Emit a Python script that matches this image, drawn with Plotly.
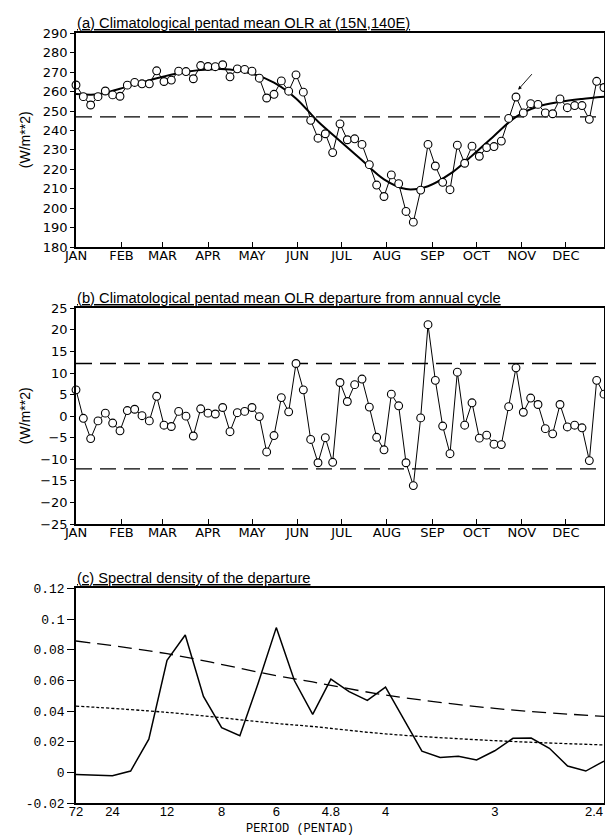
import plotly.graph_objects as go

# ---------------- data ----------------
pentad = list(range(1, 74))
olr = [263.4, 257.4, 253.1, 257.4, 260.3, 258.3, 257.6, 263.3, 264.7, 264.0,
       264.0, 270.7, 265.2, 265.9, 270.5, 270.3, 266.6, 273.4, 272.9, 272.8,
       273.8, 267.6, 271.7, 271.4, 270.5, 266.9, 256.7, 258.6, 265.5, 260.2,
       268.6, 259.7, 245.2, 236.0, 238.3, 228.6, 243.4, 235.2, 235.7, 232.8,
       222.4, 211.9, 206.0, 217.1, 212.6, 198.3, 192.8, 209.3, 232.8, 221.7,
       213.3, 209.5, 232.4, 223.1, 231.9, 226.7, 231.2, 231.7, 234.5, 246.2,
       257.2, 249.0, 253.8, 253.4, 249.0, 248.6, 256.2, 251.7, 252.8, 252.8,
       245.7, 265.3, 262.1]
cycle_pentad = [1, 4, 7, 10, 13, 16, 19, 22, 25, 28, 31, 34, 37, 40, 43, 46,
                49, 52, 55, 58, 61, 64, 67, 70, 73]
cycle_olr = [258.8, 258.6, 261.5, 264.8, 267.8, 270.2, 271.4, 271.4, 269.2,
             264.6, 256.5, 244.6, 234.6, 224.6, 214.8, 209.8, 211.3, 217.6,
             227.0, 237.2, 247.0, 252.3, 254.7, 256.2, 257.3]
olr_mean = 247.0

departure = [6.1, -0.5, -5.2, -1.1, 0.7, -1.6, -3.4, 1.3, 1.6, 0.1,
             -1.1, 4.6, -2.1, -2.4, 1.1, 0.0, -4.6, 1.7, 0.7, 0.5,
             2.0, -3.6, 0.8, 1.1, 2.0, -0.1, -8.3, -4.5, 4.3, 1.0,
             12.2, 6.1, -5.4, -10.8, -5.0, -10.7, 7.8, 3.4, 7.3, 8.6,
             2.1, -4.9, -7.8, 5.1, 2.4, -10.8, -16.1, -0.4, 21.2, 8.3,
             -2.3, -8.7, 10.2, -2.1, 3.1, -5.1, -4.4, -6.5, -6.6, 2.2,
             11.2, 0.9, 4.2, 2.7, -2.9, -4.1, 2.7, -2.5, -2.1, -2.7,
             -10.3, 8.3, 5.1]
dep_limit = 12.2

harmonic = list(range(1, 31))
spectrum = [-0.0012, -0.0015, -0.0020, 0.0010, 0.0218, 0.0731, 0.0896, 0.0496,
            0.0292, 0.0240, 0.0580, 0.0944, 0.0598, 0.0379, 0.0609, 0.0527,
            0.0470, 0.0557, 0.0350, 0.0140, 0.0099, 0.0106, 0.0082, 0.0142,
            0.0223, 0.0225, 0.0158, 0.0043, 0.0010, 0.0075]
noise_k = [1, 6, 12, 14, 18, 24, 30]
red_noise_95 = [0.0857, 0.0774, 0.0631, 0.0590, 0.0505, 0.0418, 0.0366]
red_noise_mean = [0.0433, 0.0392, 0.0320, 0.0300, 0.0252, 0.0208, 0.0180]

month_labels = ["JAN", "FEB", "MAR", "APR", "MAY", "JUN", "JUL", "AUG",
                "SEP", "OCT", "NOV", "DEC"]
month_start_day = [0, 31, 59, 90, 120, 151, 181, 212, 243, 273, 304, 334]
period_labels = ["72", "24", "12", "8", "6", "4.8", "4", "3", "2.4"]
period_values = [72, 24, 12, 8, 6, 4.8, 4, 3, 2.4]

titles = ["(a) Climatological pentad mean OLR at (15N,140E)",
          "(b) Climatological pentad mean OLR departure from annual cycle",
          "(c) Spectral density of the departure"]

# ---------------- layout geometry ----------------
# the page body has an 8px margin, so figure pixels = screen pixels - 8
OFF = 8
W, H = 605, 832
def px_x(p):
    return (p - OFF) / W
def px_y(p):
    return 1 - (p - OFF) / H

x_dom = [px_x(76), px_x(604)]
dom_a = [px_y(247), px_y(33.3)]
dom_b = [px_y(524), px_y(308.3)]
dom_c = [px_y(803.3), px_y(588.3)]

month_ticks = [d / 5 + 1 for d in month_start_day]
period_ticks = [round(72 / p, 6) for p in period_values]

TICKFONT = dict(family="DejaVu Sans", size=13, color="black")
TITLEFONT = "Liberation Sans, Arial, sans-serif"
PERIODFONT = dict(family="Liberation Sans, Arial, sans-serif", size=13, color="black")

fig = go.Figure()

# ---- panel a ----
fig.add_trace(go.Scatter(x=[1, 73], y=[olr_mean, olr_mean], mode="lines",
                         line=dict(color="black", width=1.3, dash="16px,8px"),
                         xaxis="x", yaxis="y", showlegend=False, hoverinfo="skip"))
fig.add_trace(go.Scatter(x=cycle_pentad, y=cycle_olr, mode="lines",
                         line=dict(color="black", width=2, shape="spline", smoothing=1.0),
                         xaxis="x", yaxis="y", showlegend=False))
fig.add_trace(go.Scatter(x=pentad, y=olr, mode="lines+markers",
                         line=dict(color="black", width=1),
                         marker=dict(symbol="circle", size=7.8, color="white",
                                     line=dict(color="black", width=1.1)),
                         cliponaxis=False,
                         xaxis="x", yaxis="y", showlegend=False))

# ---- panel b ----
for lim in (dep_limit, -dep_limit):
    fig.add_trace(go.Scatter(x=[1, 73], y=[lim, lim], mode="lines",
                             line=dict(color="black", width=1.3, dash="16px,8px"),
                             xaxis="x2", yaxis="y2", showlegend=False, hoverinfo="skip"))
fig.add_trace(go.Scatter(x=pentad, y=departure, mode="lines+markers",
                         line=dict(color="black", width=1),
                         marker=dict(symbol="circle", size=7.8, color="white",
                                     line=dict(color="black", width=1.1)),
                         cliponaxis=False,
                         xaxis="x2", yaxis="y2", showlegend=False))

# ---- panel c ----
fig.add_trace(go.Scatter(x=noise_k, y=red_noise_95, mode="lines",
                         line=dict(color="black", width=1.3, dash="14px,7px",
                                   shape="spline", smoothing=1.0),
                         xaxis="x3", yaxis="y3", showlegend=False))
fig.add_trace(go.Scatter(x=noise_k, y=red_noise_mean, mode="lines",
                         line=dict(color="black", width=1.3, dash="3px,2px",
                                   shape="spline", smoothing=1.0),
                         xaxis="x3", yaxis="y3", showlegend=False))
fig.add_trace(go.Scatter(x=harmonic, y=spectrum, mode="lines",
                         line=dict(color="black", width=1.5),
                         xaxis="x3", yaxis="y3", showlegend=False))

axis_common = dict(showline=True, linecolor="black", linewidth=1.5, mirror=True,
                   showgrid=False, zeroline=False, tickfont=TICKFONT,
                   ticklen=4, tickwidth=1, tickcolor="black", automargin=False)

fig.update_layout(
    width=W, height=H,
    margin=dict(l=0, r=0, t=0, b=0),
    paper_bgcolor="white", plot_bgcolor="white",
    xaxis=dict(axis_common, domain=x_dom, anchor="y", range=[1, 73],
               tickmode="array", tickvals=month_ticks, ticktext=month_labels,
               ticks="inside", ticklen=5, ticklabelstandoff=-4),
    yaxis=dict(axis_common, domain=dom_a, anchor="x", range=[180, 290],
               tickmode="array", tickvals=list(range(180, 291, 10)),
               ticks="outside"),
    xaxis2=dict(axis_common, domain=x_dom, anchor="y2", range=[1, 73],
                tickmode="array", tickvals=month_ticks, ticktext=month_labels,
                ticks="inside", ticklen=5, ticklabelstandoff=-4),
    yaxis2=dict(axis_common, domain=dom_b, anchor="x2", range=[-25, 25],
                tickmode="array", tickvals=list(range(-25, 26, 5)),
                ticks="outside"),
    xaxis3=dict(axis_common, domain=x_dom, anchor="y3", range=[1, 30],
                tickmode="array", tickvals=period_ticks[:-1], ticktext=period_labels[:-1],
                ticks="", ticklabelstandoff=-5, tickfont=PERIODFONT),
    yaxis3=dict(axis_common, domain=dom_c, anchor="x3", range=[-0.02, 0.12],
                tickmode="array",
                tickvals=[-0.02, 0, 0.02, 0.04, 0.06, 0.08, 0.1, 0.12],
                ticktext=["-0.02", "0", "0.02", "0.04", "0.06", "0.08", "0.1", "0.12"],
                ticks="outside", ticklen=7,
                tickfont=dict(family="Liberation Mono, monospace", size=13, color="black")),
)

annotations = []
for t, dom in zip(titles, (dom_a, dom_b, dom_c)):
    annotations.append(dict(
        text="<u>" + t + "</u>",
        xref="paper", yref="paper", x=px_x(75), y=dom[1] + 0.5 / H,
        xanchor="left", yanchor="bottom", showarrow=False,
        font=dict(family=TITLEFONT, size=14.7, color="black")))
for dom in (dom_a, dom_b):
    annotations.append(dict(
        text="(W/m**2)", textangle=-90,
        xref="paper", yref="paper", x=px_x(25), y=(dom[0] + dom[1]) / 2,
        xanchor="center", yanchor="middle", showarrow=False,
        font=dict(family="Liberation Sans, Arial, sans-serif", size=14, color="black")))
# last period label sits at the right edge of the axis
annotations.append(dict(
    text=period_labels[-1], x=period_ticks[-1], xref="x3",
    y=px_y(811), yref="paper", xanchor="right", yanchor="middle",
    xshift=1, showarrow=False, font=PERIODFONT))
annotations.append(dict(
    text="PERIOD (PENTAD)", xref="paper", yref="paper",
    x=px_x(300), y=px_y(829), xanchor="center", yanchor="middle", showarrow=False,
    font=dict(family="Liberation Mono, monospace", size=12, color="black")))
# arrow pointing to the Nov pentad
annotations.append(dict(
    text="", x=61.3, y=261.0, xref="x", yref="y", ax=15, ay=-17,
    showarrow=True, arrowhead=2, arrowsize=0.8, arrowwidth=0.9, arrowcolor="black"))
fig.update_layout(annotations=annotations)

fig.write_html("out.html")
